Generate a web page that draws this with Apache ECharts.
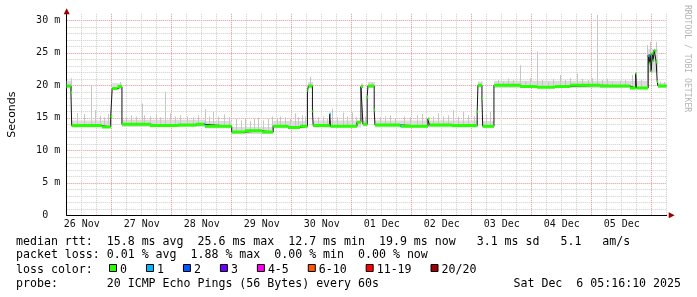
<!DOCTYPE html>
<html><head><meta charset="utf-8">
<script src="https://cdn.jsdelivr.net/npm/echarts@6/dist/echarts.min.js"></script>
<style>html,body{margin:0;padding:0;background:#fff}#c{width:697px;height:297px}</style>
</head><body><div id="c"></div>
<script>
// Time unit on the x axis: hours since 2025-11-26 00:00. Values in ms.
const dayLabels = ['26 Nov','27 Nov','28 Nov','29 Nov','30 Nov','01 Dec','02 Dec','03 Dec','04 Dec','05 Dec'];

// Median RTT: step segments (start hour, value ms, loss colour index)
const medStart = [6.0, 7.7, 8.0, 20.1, 23.6, 24.2, 26.3, 28.1, 39.3, 50.5, 57.7, 60.9, 61.3, 72.0, 77.3, 84.1, 88.6, 94.5, 99.3, 102.3,
  102.7, 104.3, 104.6, 111.2, 111.5, 122.1, 123.7, 124.5, 126.2, 126.5, 129.0, 129.3, 139.3, 139.7, 150.5, 151.1, 160.1, 170.2, 170.5, 172.1,
  172.4, 176.9, 187.3, 194.1, 201.3, 207.3, 219.3, 231.3, 233.6, 233.9, 238.6, 239.0, 239.4, 239.8, 240.2, 240.6, 241.0, 241.4, 241.8, 242.2, 242.5];
const medEnd = 245.9;
const medValue = [19.9, 18.9, 13.8, 13.6, 15.2, 19.5, 19.8, 14.0, 13.8, 13.9, 14.0, 14.0, 13.7, 12.8, 13.0, 12.8, 13.7, 13.5, 13.7, 19.2,
  19.9, 16.0, 13.8, 15.6, 13.7, 14.3, 19.8, 14.0, 18.2, 19.9, 16.2, 13.9, 13.8, 13.7, 14.8, 13.9, 13.8, 15.9, 20.0, 18.0,
  13.7, 20.0, 19.8, 19.7, 19.8, 20.0, 19.9, 19.6, 21.8, 19.6, 24.6, 23.4, 24.8, 22.1, 24.9, 23.8, 25.4, 25.2, 23.6, 20.6, 19.9];
const medLoss = [0,0,0,0,0,0,0,0,0,0, 0,1,0,0,0,0,0,0,0,0, 0,0,0,1,0,0,0,0,0,0, 0,0,1,0,0,0,0,0,0,0,
  0,0,0,0,0,0,0,0,0,0, 1,0,0,0,0,0,0,0,0,0, 0];

// Smoke: dense band segments (start hour, low ms, high ms)
const smokeStart = [6.0, 8.0, 24.2, 28.1, 61.3, 72.0, 88.6, 102.5, 104.6, 123.7, 124.5, 126.5, 129.3, 170.5, 172.4, 176.9, 238.6, 242.5];
const smokeLo    = [19.5, 13.5, 19.3, 13.6, 13.4, 12.5, 13.4, 19.5, 13.5, 19.5, 13.7, 19.6, 13.5, 19.7, 13.4, 19.6, 22.0, 19.6];
const smokeHi    = [20.7, 14.6, 20.3, 14.7, 14.5, 13.6, 14.5, 20.5, 14.6, 20.3, 14.6, 20.5, 14.6, 20.6, 14.5, 20.7, 25.6, 20.4];

// Smoke: individual spikes (hour, top ms)
const spikeT = [7.7, 10.1, 12.9, 15.7, 17.3, 19.3, 20.9, 22.5, 27.3, 29.7, 31.7, 33.7, 36.0, 36.9, 39.3, 41.7, 43.3, 45.3, 47.3, 49.3,
  51.3, 54.1, 56.5, 58.5, 61.3, 62.9, 64.5, 66.5, 68.9, 70.9, 73.7, 75.7, 77.3, 79.3, 80.9, 82.5, 84.5, 86.5, 88.0, 90.1,
  91.3, 93.3, 95.3, 97.3, 98.5, 100.0, 101.3, 103.3, 106.5, 108.5, 110.1, 112.0, 114.1, 116.4, 118.1, 120.0, 121.7, 125.3, 128.1, 131.3,
  133.3, 135.3, 137.3, 140.9, 143.3, 146.0, 148.0, 149.7, 152.5, 154.5, 156.5, 158.5, 160.5, 162.5, 164.5, 166.5, 169.0, 173.7, 175.3, 178.5,
  180.5, 182.5, 184.5, 187.3, 189.3, 191.3, 194.0, 196.1, 198.5, 200.5, 203.3, 205.3, 207.3, 210.0, 212.1, 214.5, 216.1, 218.0, 220.1, 222.0,
  224.1, 227.3, 229.3, 232.0, 235.7, 238.0, 239.3, 241.6, 243.3, 244.9];
const spikeTop = [21.1, 15.7, 15.6, 20.0, 16.2, 15.3, 15.1, 15.6, 20.5, 15.1, 15.4, 15.2, 17.2, 15.4, 15.2, 15.5, 15.1, 19.0, 15.7, 15.2,
  15.4, 15.2, 15.1, 15.4, 16.3, 15.2, 15.9, 15.2, 15.5, 15.1, 14.8, 14.6, 14.9, 14.5, 14.8, 15.0, 14.6, 14.8, 15.2, 15.0,
  15.2, 15.1, 14.8, 15.7, 15.1, 15.4, 15.2, 21.3, 15.1, 15.2, 14.9, 16.4, 15.1, 15.8, 15.2, 15.8, 15.1, 15.2, 20.3, 15.1,
  15.2, 15.4, 14.9, 15.2, 15.1, 15.4, 15.6, 15.1, 15.2, 15.7, 15.2, 15.4, 16.2, 15.2, 15.9, 15.4, 15.2, 15.6, 15.9, 20.8,
  20.6, 21.0, 20.8, 23.1, 20.6, 21.1, 25.2, 20.8, 20.5, 21.0, 21.6, 20.8, 21.1, 21.8, 21.0, 20.8, 21.1, 30.8, 20.8, 21.0,
  20.6, 20.7, 20.8, 21.6, 20.8, 26.2, 26.7, 26.7, 20.6, 20.5];

// Legend content
const lossLabels = ['0','1','2','3','4-5','6-10','11-19','20/20'];
const lossColors = ['#26ff00','#00b8ff','#0059ff','#6a00ff','#ff00ee','#ff5500','#ff0000','#a10000'];
const lineRtt  = 'median rtt:  15.8 ms avg  25.6 ms max  12.7 ms min  19.9 ms now   3.1 ms sd   5.1   am/s';
const lineLoss = 'packet loss: 0.01 % avg  1.88 % max  0.00 % min  0.00 % now';
const lineColorHead = 'loss color:';
const lineProbe = 'probe:       20 ICMP Echo Pings (56 Bytes) every 60s';
const stamp = 'Sat Dec  6 05:16:10 2025';

// ---- derived series data ----
function segEnds(starts, end) { return starts.map((s, i) => i + 1 < starts.length ? starts[i + 1] : end); }
const medEnds = segEnds(medStart, medEnd);
function medianAt(t) { let v = medValue[0]; for (let i = 0; i < medStart.length; i++) if (medStart[i] <= t) v = medValue[i]; return v; }
const medLineData = [];
medStart.forEach((s, i) => { medLineData.push([s, medValue[i]]); medLineData.push([medEnds[i], medValue[i]]); });
const greenData = medStart.map((s, i) => [s, medEnds[i], medValue[i], medLoss[i]]);
const smokeEnds = segEnds(smokeStart, medEnd);
const smokeData = smokeStart.map((s, i) => [s, smokeEnds[i], smokeLo[i], smokeHi[i]]);
const spikeData = spikeT.map((t, i) => [t, medianAt(t), spikeTop[i]]);

const MONO = 'DejaVu Sans Mono';
const CW = 6.97;
const elems = [];
function txt(x, y, text, extra) {
  elems.push({ type: 'text', x: x, y: y, silent: true, z: 100,
    style: Object.assign({ text: text, fill: '#000', fontFamily: MONO, fontSize: 11.6,
      textAlign: 'left', align: 'left', textVerticalAlign: 'middle', verticalAlign: 'middle' }, extra || {}) });
}
txt(16, 241.7, lineRtt);
txt(16, 255.2, lineLoss);
txt(16, 269.8, lineColorHead);
txt(16, 284.2, lineProbe);
txt(681, 284.2, stamp, { textAlign: 'right', align: 'right' });
let lx = 109;
lossLabels.forEach((lab, i) => {
  elems.push({ type: 'rect', silent: true, z: 100, shape: { x: lx + 0.5, y: 264.5, width: 7, height: 7 },
    style: { fill: lossColors[i], stroke: '#000', lineWidth: 1 } });
  txt(lx + 11, 269.8, lab);
  lx += 11 + lab.length * CW + 19;
});
elems.push({ type: 'text', x: 687, y: 5, rotation: -Math.PI / 2, silent: true, z: 100,
  style: { text: 'RRDTOOL / TOBI OETIKER', fill: '#b4b4b4', fontFamily: MONO, fontSize: 8.1,
    textAlign: 'left', align: 'left', textVerticalAlign: 'middle', verticalAlign: 'middle' } });

const GRAY = '#cdcdcd', RED = '#e39494';
const chart = echarts.init(document.getElementById('c'), null, { renderer: 'canvas' });
chart.setOption({
  animation: false,
  backgroundColor: '#ffffff',
  grid: { left: 66.7, right: 30.3, top: 13.8, bottom: 81.7, containLabel: false, outerBoundsMode: 'none' },
  xAxis: [{
    type: 'value', min: 6, max: 246, interval: 6, position: 'bottom',
    axisLine: { show: true, onZero: false, lineStyle: { color: '#000', width: 1 } },
    axisTick: { show: false },
    axisLabel: { margin: 4, color: '#111', fontFamily: MONO, fontSize: 10,
      formatter: v => ((v - 12) % 24 === 0 ? (dayLabels[(v - 12) / 24] || '') : '') },
    splitLine: { show: true, lineStyle: { color: [GRAY, GRAY, GRAY, RED], type: [1, 1], width: 1 } }
  }, {
    type: 'value', min: 6, max: 246, position: 'bottom',
    axisLine: { show: true, onZero: false, symbol: ['none', 'triangle'], symbolSize: [6, 6], symbolOffset: [0, 5],
      lineStyle: { color: '#9a0000', opacity: 0 } },
    axisTick: { show: false }, axisLabel: { show: false }, splitLine: { show: false }
  }],
  yAxis: [{
    type: 'value', min: 0, max: 31, interval: 1, position: 'left',
    name: 'Seconds', nameLocation: 'middle', nameGap: 49.5, nameRotate: 90,
    nameTextStyle: { color: '#000', fontFamily: 'DejaVu Sans', fontSize: 11 },
    axisLine: { show: true, onZero: false, lineStyle: { color: '#000', width: 1 } },
    axisTick: { show: false },
    axisLabel: { margin: 6.5, color: '#111', fontFamily: MONO, fontSize: 10, showMaxLabel: false,
      formatter: v => (v % 5 === 0 ? (v === 0 ? '0  ' : v + ' m') : '') },
    splitLine: { show: true, showMaxLine: false, lineStyle: { color: [RED, GRAY, GRAY, GRAY, GRAY], type: [1, 1], width: 1 } }
  }, {
    type: 'value', min: 0, max: 31, position: 'left',
    axisLine: { show: true, onZero: false, symbol: ['none', 'triangle'], symbolSize: [6, 6], symbolOffset: [0, 2.5],
      lineStyle: { color: '#9a0000', opacity: 0 } },
    axisTick: { show: false }, axisLabel: { show: false }, splitLine: { show: false }
  }],
  series: [{
    type: 'custom', name: 'smoke', z: 2, silent: true, clip: true,
    encode: { x: [0, 1], y: [2, 3] }, data: smokeData,
    renderItem: (p, api) => {
      const a = api.coord([api.value(0), api.value(3)]);
      const b = api.coord([api.value(1), api.value(2)]);
      return { type: 'rect', shape: { x: a[0], y: a[1], width: b[0] - a[0], height: b[1] - a[1] }, style: { fill: '#dcdcdc' } };
    }
  }, {
    type: 'custom', name: 'spikes', z: 3, silent: true, clip: true,
    encode: { x: 0, y: [1, 2] }, data: spikeData,
    renderItem: (p, api) => {
      const a = api.coord([api.value(0), api.value(2)]);
      const b = api.coord([api.value(0), api.value(1)]);
      return { type: 'rect', shape: { x: Math.round(a[0]), y: a[1], width: 1, height: b[1] - a[1] }, style: { fill: '#c6c6c6' } };
    }
  }, {
    type: 'line', name: 'median', z: 4, silent: true, data: medLineData,
    symbol: 'none', showSymbol: false, lineStyle: { color: '#151515', width: 1 }
  }, {
    type: 'custom', name: 'loss', z: 5, silent: true, clip: true,
    encode: { x: [0, 1], y: 2 }, data: greenData,
    renderItem: (p, api) => {
      const a = api.coord([api.value(0), api.value(2)]);
      const b = api.coord([api.value(1), api.value(2)]);
      return { type: 'rect', shape: { x: a[0], y: a[1] - 1.5, width: Math.max(1, b[0] - a[0]), height: 3 },
        style: { fill: lossColors[api.value(3)] } };
    }
  }],
  graphic: { elements: elems }
});
</script></body></html>
